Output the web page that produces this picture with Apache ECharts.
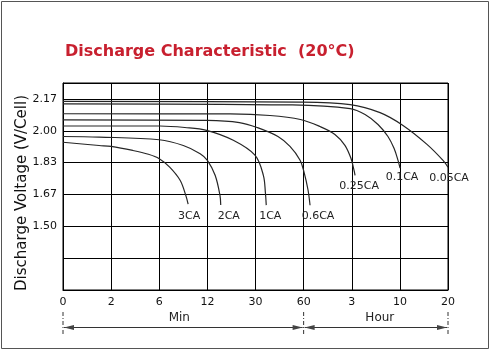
<!DOCTYPE html>
<html>
<head>
<meta charset="utf-8">
<script src="https://cdn.jsdelivr.net/npm/echarts@6/dist/echarts.min.js"></script>
<style>
html,body{margin:0;padding:0;background:#fff;}
#chart{width:491px;height:351px;}
</style>
</head>
<body>
<div id="chart"></div>
<script>
// x axis: ticks are evenly spaced, the time behind each one is in minutes
const tickMinutes = [0, 2, 6, 12, 30, 60, 180, 600, 1200];
const tickLabels = ['0', '2', '6', '12', '30', '60', '3', '10', '20'];

// discharge curves, time in minutes, voltage in V/cell
const t3CA = [0, 1.5, 2, 3.8, 5.1, 6, 7.3, 8.6, 9.3, 9.6];
const v3CA = [1.94, 1.923, 1.918, 1.897, 1.877, 1.854, 1.81, 1.741, 1.663, 1.616];
const t2CA = [0, 1.5, 6, 9, 11.1, 12, 14.9, 16.7, 17.0];
const v2CA = [1.97, 1.967, 1.953, 1.923, 1.88, 1.845, 1.767, 1.663, 1.611];
const t1CA = [0, 6.1, 9.2, 11.9, 21.7, 29.8, 34.9, 36.2, 36.7];
const v1CA = [2.025, 2.025, 2.017, 2.002, 1.95, 1.872, 1.767, 1.673, 1.611];
const t06CA = [0, 12, 24, 31, 44, 51.5, 57.8, 61, 71, 76];
const v06CA = [2.057, 2.054, 2.043, 2.017, 1.97, 1.918, 1.846, 1.784, 1.69, 1.61];
const t025CA = [0, 20.5, 39, 58, 101, 138, 163, 178, 200, 209];
const v025CA = [2.089, 2.088, 2.08, 2.059, 2.022, 1.981, 1.924, 1.856, 1.793, 1.767];
const t01CA = [0, 53, 176, 296, 409, 496, 549, 584, 602];
const v01CA = [2.141, 2.135, 2.116, 2.085, 2.033, 1.97, 1.908, 1.845, 1.804];
const t005CA = [0, 58, 176, 427, 639, 938, 1138, 1200];
const v005CA = [2.154, 2.15, 2.137, 2.095, 2.028, 1.929, 1.845, 1.809];

const curves = [
    {name: '3CA', t: t3CA, v: v3CA, off: [1, 12]},
    {name: '2CA', t: t2CA, v: v2CA, off: [8, 11]},
    {name: '1CA', t: t1CA, v: v1CA, off: [4, 11]},
    {name: '0.6CA', t: t06CA, v: v06CA, off: [8, 11]},
    {name: '0.25CA', t: t025CA, v: v025CA, off: [4, 11]},
    {name: '0.1CA', t: t01CA, v: v01CA, off: [2, 9]},
    {name: '0.05CA', t: t005CA, v: v005CA, off: [1, 11]}
];

const font = 'DejaVu Sans';

// minutes -> position on the evenly spaced tick axis
function toPos(t){
    for(let i=0;i<tickMinutes.length-1;i++){
        if(t<=tickMinutes[i+1]){
            return i+(t-tickMinutes[i])/(tickMinutes[i+1]-tickMinutes[i]);
        }
    }
    return tickMinutes.length-1;
}

// y axis works in sixths of a volt so the grid lines sit on whole numbers
let series=curves.map(c=>({
    type:'line',
    name:c.name,
    data:c.t.map((t,i)=>[toPos(t), c.v[i]*6]),
    showSymbol:false,
    smooth:0.35,
    lineStyle:{color:'#262626', width:1.2},
    endLabel:{
        show:true,
        formatter:c.name,
        align:'center',
        verticalAlign:'middle',
        distance:0,
        offset:c.off,
        color:'#222',
        fontFamily:font,
        fontSize:11
    }
}));

let chart=echarts.init(document.getElementById('chart'));
chart.setOption({
    animation:false,
    title:{
        text:'Discharge Characteristic  (20\u00b0C)',
        left:60,
        top:39,
        textStyle:{color:'#c8202f', fontWeight:'bold', fontFamily:font, fontSize:16}
    },
    grid:{left:63, right:43, top:83, bottom:61, show:true, borderColor:'#000', borderWidth:1},
    xAxis:{
        type:'value',
        min:0,
        max:8,
        interval:1,
        axisLine:{lineStyle:{color:'#000'}},
        axisTick:{show:false},
        splitLine:{lineStyle:{color:'#000', width:1}},
        axisLabel:{
            formatter:v=>tickLabels[v] || '',
            color:'#111',
            fontFamily:font,
            fontSize:11,
            margin:7
        }
    },
    yAxis:{
        type:'value',
        min:7,
        max:13.5,
        interval:1,
        name:'Discharge Voltage (V/Cell)',
        nameLocation:'middle',
        nameGap:33,
        nameMoveOverlap:false,
        nameTextStyle:{color:'#111', fontFamily:font, fontSize:15, padding:[0, 13, 0, 0]},
        axisLine:{lineStyle:{color:'#000'}},
        axisTick:{show:false},
        splitLine:{lineStyle:{color:'#000', width:1}},
        axisLabel:{
            formatter:v=>(v>=9 && v<=13.01) ? (v/6).toFixed(2) : '',
            showMaxLabel:false,
            color:'#111',
            fontFamily:font,
            fontSize:11,
            margin:6
        }
    },
    series
});

// Min / Hour span markers under the axis
let px=v=>chart.convertToPixel({xAxisIndex:0}, v);
let xs=[px(0), px(5), px(8)];
let yLine=327.5;
let g=[];
xs.forEach(x=>{
    g.push({type:'line', shape:{x1:x, y1:312, x2:x, y2:334},
        style:{stroke:'#333', lineWidth:1, lineDash:[4, 2, 1, 2]}});
});
function span(a, b){
    g.push({type:'line', shape:{x1:a, y1:yLine, x2:b, y2:yLine}, style:{stroke:'#333', lineWidth:1}});
    g.push({type:'polygon', shape:{points:[[a, yLine], [a+10, yLine-2.5], [a+10, yLine+2.5]]}, style:{fill:'#444'}});
    g.push({type:'polygon', shape:{points:[[b, yLine], [b-10, yLine-2.5], [b-10, yLine+2.5]]}, style:{fill:'#444'}});
}
span(xs[0]+1, xs[1]-1);
span(xs[1]+1, xs[2]-1);
g.push({type:'text', x:(xs[0]+xs[1])/2-4, y:318,
    style:{text:'Min', fill:'#222', font:'12px '+font, align:'center', verticalAlign:'middle'}});
g.push({type:'text', x:(xs[1]+xs[2])/2+4, y:318,
    style:{text:'Hour', fill:'#222', font:'12px '+font, align:'center', verticalAlign:'middle'}});
// frame round the picture
g.push({type:'rect', shape:{x:1.5, y:1.5, width:487, height:347}, style:{fill:'none', stroke:'#555', lineWidth:1}});
chart.setOption({graphic:g});
</script>
</body>
</html>
